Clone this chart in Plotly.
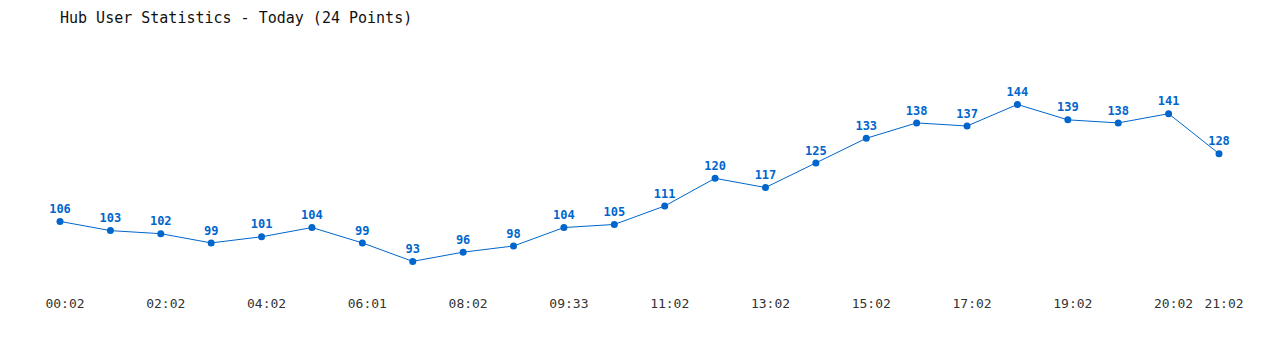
import plotly.graph_objects as go

values = [106, 103, 102, 99, 101, 104, 99, 93, 96, 98, 104, 105,
          111, 120, 117, 125, 133, 138, 137, 144, 139, 138, 141, 128]
tick_positions = [0, 2, 4, 6, 8, 10, 12, 14, 16, 18, 20, 22, 23]
tick_labels = ["00:02", "02:02", "04:02", "06:01", "08:02", "09:33", "11:02",
               "13:02", "15:02", "17:02", "19:02", "20:02", "21:02"]
title_text = "Hub User Statistics - Today (24 Points)"

x = list(range(len(values)))
blue = "#0066CC"

fig = go.Figure(go.Scatter(
    x=x, y=values, mode="lines+markers+text",
    line=dict(color=blue, width=1),
    marker=dict(color=blue, size=7),
    text=[str(v) for v in values], textposition="top center",
    textfont=dict(family="DejaVu Sans Mono", size=12, color=blue, weight="bold"),
    cliponaxis=False,
    hoverinfo="skip", showlegend=False,
))

fig.update_layout(
    width=1280, height=350,
    margin=dict(l=60, r=61, t=86, b=64),
    paper_bgcolor="white", plot_bgcolor="white",
    title=dict(text=title_text, x=60/1280, xanchor="left", y=1-18/350, yanchor="middle",
               font=dict(family="DejaVu Sans Mono", size=15, color="#111111")),
    xaxis=dict(range=[0, 23], tickvals=tick_positions, ticktext=tick_labels,
               showgrid=False, zeroline=False, showline=False, ticks="",
               tickfont=dict(family="DejaVu Sans Mono", size=13, color="#333333"),
               ticklabelshift=5, ticklabelstandoff=8),
    yaxis=dict(range=[85, 150], showgrid=False, zeroline=False, showline=False,
               showticklabels=False, ticks=""),
)

fig.write_html("out.html")
